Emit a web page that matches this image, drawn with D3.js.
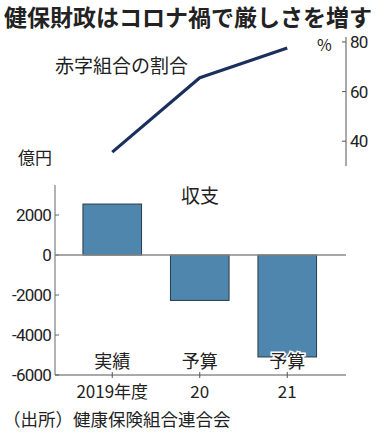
<!DOCTYPE html>
<html>
<head>
<meta charset="utf-8">
<script src="https://cdn.jsdelivr.net/npm/d3@7"></script>
<style>
  body { margin: 0; background: #fff; }
  svg { display: block; }
  text { font-family: "Noto Sans CJK JP", "Noto Sans", sans-serif; fill: #222; }
  .num { font-family: Roboto, "Noto Sans", sans-serif; letter-spacing: -0.8px; }
</style>
</head>
<body>
<div id="chart"></div>
<script>
// Data
const years = ["2019年度", "20", "21"];
const kinds = ["実績", "予算", "予算"];
const deficitShare = [35.6, 65.6, 77.6];      // % of unions in deficit
const balance = [2548, -2271, -5098];          // 億円
const shareTicks = [40, 60, 80];
const balanceTicks = [2000, 0, -2000, -4000, -6000];

const width = 377, height = 437;

const svg = d3.select("#chart")
  .append("svg")
  .attr("width", width)
  .attr("height", height);

// Title
svg.append("text")
  .attr("x", 4)
  .attr("y", 26)
  .attr("font-size", 23)
  .attr("font-weight", "bold")
  .attr("fill", "#111")
  .text("健保財政はコロナ禍で厳しさを増す");

// Shared x scale
const x = d3.scaleBand()
  .domain(years)
  .range([68.5, 331])
  .paddingInner(0.33)
  .paddingOuter(0.165);

const axisLeftX = 55, axisRightX = 346;

// ---- Top: line chart (deficit share) ----
const yTop = d3.scaleLinear().domain([30, 82]).range([166, 37]);

svg.append("line")
  .attr("x1", axisRightX).attr("x2", axisRightX)
  .attr("y1", yTop(82)).attr("y2", yTop(30))
  .attr("stroke", "#555").attr("stroke-width", 1);

shareTicks.forEach(t => {
  svg.append("line")
    .attr("x1", axisRightX - 4).attr("x2", axisRightX)
    .attr("y1", yTop(t)).attr("y2", yTop(t))
    .attr("stroke", "#555");
  svg.append("text")
    .attr("class", "num")
    .attr("x", axisRightX + 4)
    .attr("y", yTop(t) + 6)
    .attr("font-size", 17)
    .text(t);
});

svg.append("text")
  .attr("x", 317).attr("y", 51)
  .attr("font-size", 16)
  .attr("fill", "#333")
  .text("%");

svg.append("text")
  .attr("x", 55).attr("y", 73)
  .attr("font-size", 19)
  .attr("fill", "#333")
  .text("赤字組合の割合");

const line = d3.line()
  .x((d, i) => x(years[i]) + x.bandwidth() / 2)
  .y(d => yTop(d));

svg.append("path")
  .datum(deficitShare)
  .attr("d", line)
  .attr("fill", "none")
  .attr("stroke", "#1b2f5e")
  .attr("stroke-width", 3.2)
  .attr("stroke-linejoin", "round");

// ---- Bottom: bar chart (balance) ----
const yBar = d3.scaleLinear().domain([-6000, 3500]).range([375, 185]);

svg.append("text")
  .attr("x", 18).attr("y", 164)
  .attr("font-size", 17)
  .attr("fill", "#333")
  .text("億円");

svg.append("text")
  .attr("x", 200).attr("y", 203)
  .attr("text-anchor", "middle")
  .attr("font-size", 19)
  .attr("fill", "#222")
  .text("収支");

// left axis line
svg.append("line")
  .attr("x1", axisLeftX).attr("x2", axisLeftX)
  .attr("y1", yBar(3500)).attr("y2", yBar(-6000))
  .attr("stroke", "#666");

balanceTicks.forEach(t => {
  svg.append("line")
    .attr("x1", axisLeftX).attr("x2", axisLeftX + 4)
    .attr("y1", yBar(t)).attr("y2", yBar(t))
    .attr("stroke", "#666");
  svg.append("text")
    .attr("class", "num")
    .attr("x", axisLeftX - 4)
    .attr("y", yBar(t) + 6)
    .attr("text-anchor", "end")
    .attr("font-size", 17)
    .text(t);
});

// bars
svg.selectAll(".bar")
  .data(balance)
  .enter()
  .append("rect")
  .attr("class", "bar")
  .attr("x", (d, i) => x(years[i]))
  .attr("width", x.bandwidth())
  .attr("y", d => yBar(Math.max(0, d)))
  .attr("height", d => Math.abs(yBar(d) - yBar(0)))
  .attr("fill", "#4e86ad")
  .attr("stroke", "#2a3a48")
  .attr("stroke-width", 1);

// zero line
svg.append("line")
  .attr("x1", axisLeftX).attr("x2", axisRightX)
  .attr("y1", yBar(0)).attr("y2", yBar(0))
  .attr("stroke", "#888").attr("stroke-width", 1.6);

// bottom axis
svg.append("line")
  .attr("x1", axisLeftX).attr("x2", axisRightX)
  .attr("y1", yBar(-6000)).attr("y2", yBar(-6000))
  .attr("stroke", "#555").attr("stroke-width", 1);

years.forEach((yr, i) => {
  const cx = x(yr) + x.bandwidth() / 2;
  svg.append("line")
    .attr("x1", cx).attr("x2", cx)
    .attr("y1", yBar(-6000) - 3).attr("y2", yBar(-6000) + 3)
    .attr("stroke", "#555");
  svg.append("text")
    .attr("x", cx).attr("y", 368)
    .attr("text-anchor", "middle")
    .attr("font-size", 18)
    .attr("stroke", "#fff")
    .attr("stroke-width", 3)
    .attr("paint-order", "stroke")
    .text(kinds[i]);
  svg.append("text")
    .attr("x", cx).attr("y", 398)
    .attr("text-anchor", "middle")
    .attr("font-size", 17)
    .text(yr);
});

// Source
svg.append("text")
  .attr("x", 3).attr("y", 426)
  .attr("font-size", 17.5)
  .attr("fill", "#333")
  .text("（出所）健康保険組合連合会");
</script>
</body>
</html>
